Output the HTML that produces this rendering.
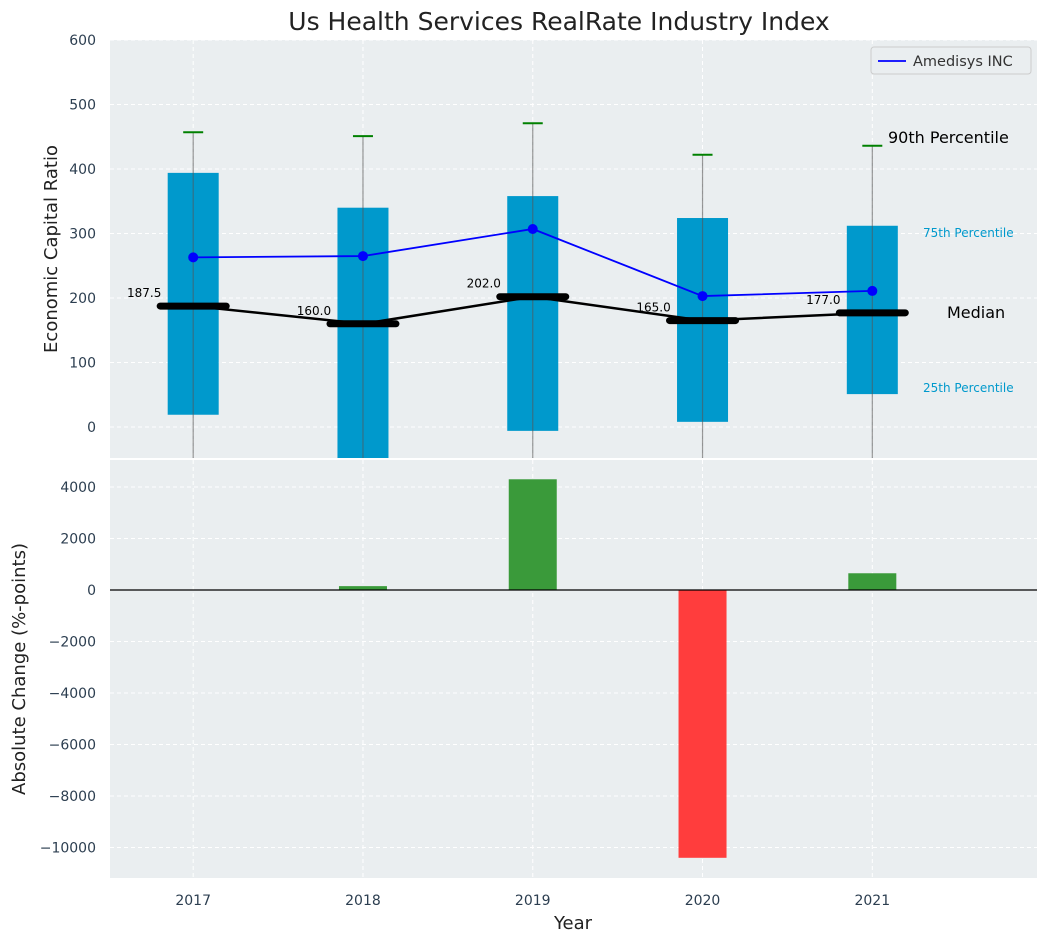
<!DOCTYPE html>
<html><head><meta charset="utf-8"><style>
body{margin:0;background:#fff;}
svg text{font-family:"DejaVu Sans","Liberation Sans",sans-serif;}
</style></head><body>
<svg id="chart" width="1048" height="942" xmlns="http://www.w3.org/2000/svg">
<text x="559" y="30" font-size="25" text-anchor="middle" fill="#222">Us Health Services RealRate Industry Index</text>
<rect x="110" y="40" width="927" height="418" fill="#eaeef0"/>
<rect x="110" y="460" width="927" height="418" fill="#eaeef0"/>
<g id="g"></g>
<text x="57" y="249" font-size="18" fill="#222" text-anchor="middle" transform="rotate(-90 57 249)">Economic Capital Ratio</text>
<text x="25" y="669" font-size="18" fill="#222" text-anchor="middle" transform="rotate(-90 25 669)">Absolute Change (%-points)</text>
<text x="573" y="929" font-size="18" fill="#222" text-anchor="middle">Year</text>
<g>
<rect x="871" y="47" width="160" height="27" fill="#eaeef0" stroke="#ccc" rx="3"/>
<line x1="878" y1="61" x2="906" y2="61" stroke="blue" stroke-width="1.8"/>
<text x="913" y="66" font-size="14.5" fill="#333">Amedisys INC</text>
</g>
<text x="888" y="143" font-size="16" fill="#000">90th Percentile</text>
<text x="923" y="237" font-size="12" fill="#0099cc">75th Percentile</text>
<text x="947" y="318" font-size="16" fill="#000">Median</text>
<text x="923" y="392" font-size="12" fill="#0099cc">25th Percentile</text>
</svg>
<script>
const years=[2017,2018,2019,2020,2021];
const p25=[19,-60,-6,8,51];
const p75=[394,340,358,324,312];
const p90=[457,451,471,422,436];
const medians=[187.5,160,202,165,177];
const medianLabels=["187.5","160.0","202.0","165.0","177.0"];
const amedisys=[263,265,307,203,211];
const changes=[0,150,4300,-10400,650];
const topTicks=[0,100,200,300,400,500,600];
const botTicks=[4000,2000,0,-2000,-4000,-6000,-8000,-10000];

const NS="http://www.w3.org/2000/svg";
const g=document.getElementById('g');
const X0=110,X1=1037;
const xs=v=>X0+(v-2016.51)/(2021.97-2016.51)*(X1-X0);
const yt=v=>427-v*0.645;
const yb=v=>590-v*0.02575;
function el(t,a,p){const e=document.createElementNS(NS,t);for(const k in a)e.setAttribute(k,a[k]);(p||g).appendChild(e);return e;}

const defs=el('defs',{});
const cp=el('clipPath',{id:'ct'},defs);el('rect',{x:110,y:40,width:927,height:418},cp);
const cb=el('clipPath',{id:'cb'},defs);el('rect',{x:110,y:460,width:927,height:418},cb);

topTicks.forEach(v=>{
 const l=el('line',{x1:X0,x2:X1,y1:yt(v),y2:yt(v),stroke:'#fff','stroke-dasharray':'4,3','stroke-width':1});
 
 
 const t=el('text',{x:96,y:yt(v)+5,'font-size':14,fill:'#2c3e50','text-anchor':'end'});t.textContent=v;
 
 
});
botTicks.forEach(v=>{
 const l=el('line',{x1:X0,x2:X1,y1:yb(v),y2:yb(v),stroke:'#fff','stroke-dasharray':'4,3','stroke-width':1});
 
 
 const t=el('text',{x:96,y:yb(v)+5,'font-size':14,fill:'#2c3e50','text-anchor':'end'});t.textContent=(v<0?'\u2212'+(-v):v);
 
 
});
years.forEach(y=>{
 [[40,458],[460,878]].forEach(r=>{const l=el('line',{x1:xs(y),x2:xs(y),y1:r[0],y2:r[1],stroke:'#fff','stroke-dasharray':'4,3'});
 
 });
 const t=el('text',{x:xs(y),y:905,'font-size':14,fill:'#2c3e50','text-anchor':'middle'});t.textContent=y;
 
 
});

const topG=el('g',{'clip-path':'url(#ct)'});
const bw=0.3*170;
years.forEach((y,i)=>{
 const b=el('rect',{x:xs(y)-bw/2,y:yt(p75[i]),width:bw,height:yt(p25[i])-yt(p75[i]),fill:'#0099cc'},topG);
 
 
 const w=el('line',{x1:xs(y),x2:xs(y),y1:yt(p90[i]),y2:470,stroke:'#555','stroke-opacity':0.6,'stroke-width':1.2},topG);
 
 
 const c=el('line',{x1:xs(y)-10,x2:xs(y)+10,y1:yt(p90[i]),y2:yt(p90[i]),stroke:'green','stroke-width':2},topG);
 
 
});
let d='';years.forEach((y,i)=>{d+=(i?'L':'M')+xs(y)+','+yt(medians[i]);});
const ml=el('path',{d:d,fill:'none',stroke:'#000','stroke-width':2.5},topG);


years.forEach((y,i)=>{
 const m=el('line',{x1:xs(y)-33,x2:xs(y)+33,y1:yt(medians[i]),y2:yt(medians[i]),stroke:'#000','stroke-width':7,'stroke-linecap':'round'},topG);
 
 
 const t=el('text',{x:xs(y)-49,y:yt(medians[i])-9,'font-size':12,fill:'#000','text-anchor':'middle'},topG);t.textContent=medianLabels[i];
 
 
});
let d2='';years.forEach((y,i)=>{d2+=(i?'L':'M')+xs(y)+','+yt(amedisys[i]);});
const al=el('path',{d:d2,fill:'none',stroke:'blue','stroke-width':1.8},topG);


years.forEach((y,i)=>{const p=el('circle',{cx:xs(y),cy:yt(amedisys[i]),r:5,fill:'blue'},topG);
 
 });

const botG=el('g',{'clip-path':'url(#cb)'});
years.forEach((y,i)=>{
 const v=changes[i];if(!v)return;
 const r=el('rect',{x:xs(y)-24,y:Math.min(yb(v),yb(0)),width:48,height:Math.abs(yb(v)-yb(0)),fill:v>0?'#3a9a3a':'#ff3d3d'},botG);
 
 
});
const z=el('line',{x1:X0,x2:X1,y1:yb(0),y2:yb(0),stroke:'#000','stroke-width':1.2});


</script>
</body></html>
